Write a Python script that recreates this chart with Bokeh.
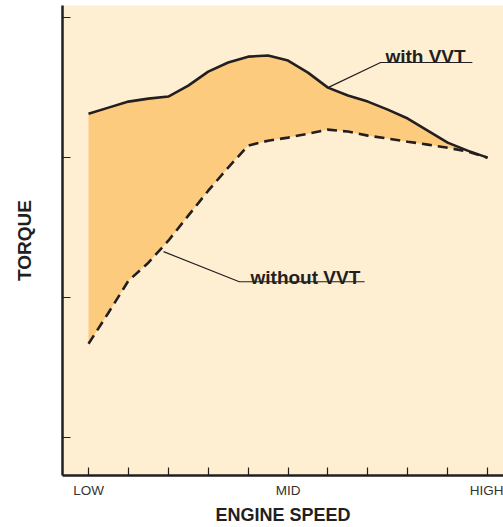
from bokeh.plotting import figure
from bokeh.models import Range1d, FixedTicker
from bokeh.core.properties import value
from bokeh.embed import file_html
from bokeh.resources import INLINE

# engine speed positions (LOW=0 ... HIGH=10)
speed = [0, 0.5, 1, 1.5, 2, 2.5, 3, 3.5, 4, 4.5, 5, 5.5, 6, 6.5, 7, 7.5, 8, 8.5, 9, 9.5, 10]
torque_with_vvt = [2.314, 2.357, 2.400, 2.421, 2.436, 2.514, 2.614, 2.679, 2.721, 2.729, 2.693,
                   2.607, 2.500, 2.443, 2.400, 2.343, 2.279, 2.193, 2.107, 2.050, 2.000]
torque_without_vvt = [0.671, 0.893, 1.121, 1.250, 1.407, 1.586, 1.764, 1.929, 2.086, 2.121, 2.143,
                      2.171, 2.200, 2.186, 2.157, 2.136, 2.114, 2.093, 2.071, 2.043, 2.000]

x_ticks = [0, 1, 2, 3, 4, 5, 6, 7, 8, 9, 10]
x_tick_labels = {0: "LOW", 5: "MID", 10: "HIGH"}
y_ticks = [0, 1, 2, 3]
x_title = "ENGINE SPEED"
y_title = "TORQUE"

# annotation leaders
with_label = "with VVT"
with_leader_x = [6.0, 7.32, 9.62]
with_leader_y = [2.50, 2.679, 2.679]
with_text_pos = (7.44, 2.72)
without_label = "without VVT"
without_leader_x = [1.88, 3.78, 6.92]
without_leader_y = [1.329, 1.114, 1.114]
without_text_pos = (4.06, 1.143)

BG = "#FEEFD3"
FILL = "#FDCB7D"
INK = "#231F20"
FONT = "Liberation Sans"

p = figure(width=503, height=527, output_backend="svg", toolbar_location=None,
           x_range=Range1d(-0.652, 10.40), y_range=Range1d(-0.269, 3.086),
           min_border_left=62, min_border_right=0, min_border_top=5, min_border_bottom=40,
           background_fill_color=BG, border_fill_color="white", outline_line_color=None)
p.grid.visible = False

p.varea(x=speed, y1=torque_without_vvt, y2=torque_with_vvt, fill_color=FILL)
p.line(speed, torque_with_vvt, line_color=INK, line_width=2.6)
p.line(speed, torque_without_vvt, line_color=INK, line_width=2.6, line_dash="10 6")

p.line(with_leader_x, with_leader_y, line_color=INK, line_width=1.2)
p.line(without_leader_x, without_leader_y, line_color=INK, line_width=1.2)
p.text(x=[with_text_pos[0]], y=[with_text_pos[1]], text=[with_label],
       text_font=value(FONT), text_font_style="bold", text_font_size="19px",
       text_color=INK, text_baseline="alphabetic")
p.text(x=[without_text_pos[0]], y=[without_text_pos[1]], text=[without_label],
       text_font=value(FONT), text_font_style="bold", text_font_size="19px",
       text_color=INK, text_baseline="alphabetic")

xa = p.xaxis[0]
xa.ticker = FixedTicker(ticks=x_ticks)
xa.major_label_overrides = {t: x_tick_labels.get(t, "") for t in x_ticks}
xa.major_tick_in = 8
xa.major_tick_out = 0
xa.minor_tick_line_color = None
xa.major_tick_line_color = INK
xa.major_tick_line_width = 1.2
xa.axis_line_color = INK
xa.axis_line_width = 2.5
xa.major_label_text_font = FONT
xa.major_label_text_font_size = "13.5px"
xa.major_label_text_color = "#333333"
xa.major_label_standoff = 7
xa.axis_label = x_title
xa.axis_label_text_font = FONT
xa.axis_label_text_font_style = "bold"
xa.axis_label_text_font_size = "18px"
xa.axis_label_text_color = INK
xa.axis_label_standoff = 4

ya = p.yaxis[0]
ya.ticker = FixedTicker(ticks=y_ticks)
ya.major_label_overrides = {t: "" for t in y_ticks}
ya.major_label_text_font_size = "0px"
ya.major_label_standoff = 0
ya.major_tick_in = 8
ya.major_tick_out = 0
ya.minor_tick_line_color = None
ya.major_tick_line_color = INK
ya.major_tick_line_width = 1.2
ya.axis_line_color = INK
ya.axis_line_width = 2.5
ya.axis_label = y_title
ya.axis_label_text_font = FONT
ya.axis_label_text_font_style = "bold"
ya.axis_label_text_font_size = "19px"
ya.axis_label_text_color = INK
ya.axis_label_standoff = 28

open("out.html", "w").write(file_html(p, INLINE))
